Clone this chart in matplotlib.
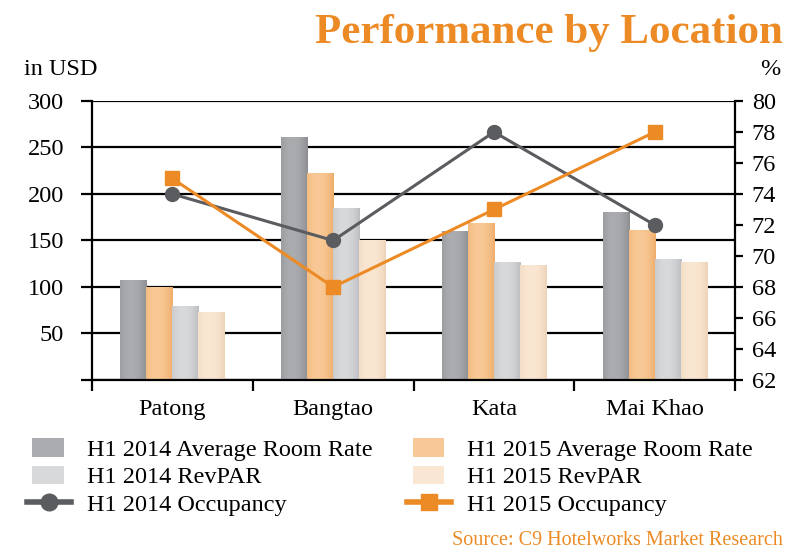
import numpy as np
import matplotlib
matplotlib.use("Agg")
from matplotlib import pyplot as plt
from matplotlib.colors import LinearSegmentedColormap
from matplotlib.patches import Patch, Rectangle
from matplotlib.lines import Line2D
from matplotlib.legend_handler import HandlerPatch

plt.rcParams['font.family'] = ['Liberation Serif', 'DejaVu Serif']

# data
locations = ['Patong', 'Bangtao', 'Kata', 'Mai Khao']
arr2014 = [107, 261, 160, 180]
arr2015 = [100, 222, 168, 161]
revpar2014 = [79, 184, 126, 130]
revpar2015 = [73, 150, 123, 126]
occ2014 = [74, 71, 78, 72]
occ2015 = [75, 68, 73, 78]

usdTicks = [0, 50, 100, 150, 200, 250, 300]
pctTicks = [62, 64, 66, 68, 70, 72, 74, 76, 78, 80]

orange = '#ec8b25'
darkGray = '#5b5c5f'

# (edge colour, centre colour) for the shaded bars
barSeries = [
    ('H1 2014 Average Room Rate', arr2014, '#8c8d91', '#abacb0'),
    ('H1 2015 Average Room Rate', arr2015, '#eeab68', '#f8c996'),
    ('H1 2014 RevPAR', revpar2014, '#bbbcbf', '#d8d9db'),
    ('H1 2015 RevPAR', revpar2015, '#ecd3b8', '#fae7d3'),
]

fig = plt.figure(figsize=(8, 5.58), dpi=100)
ax = fig.add_axes([0.115, 0.319, 0.804, 0.5])

x = np.arange(len(locations))
barWidth = 0.162
offsets = [-1.5, -0.5, 0.5, 1.5]

t = np.linspace(0, 1, 64)
shade = np.sin(np.pi * (0.15 + 0.85 * t)) ** 0.8
shade = shade.reshape(1, -1)

for (name, vals, edge, mid), off in zip(barSeries, offsets):
    bars = ax.bar(x + off * barWidth, vals, barWidth, color=mid, zorder=2)
    cmap = LinearSegmentedColormap.from_list(name, [edge, mid])
    for b in bars:
        ax.imshow(shade, cmap=cmap, vmin=0, vmax=1, aspect='auto',
                  extent=[b.get_x(), b.get_x() + b.get_width(), 0, b.get_height()],
                  zorder=2.1, interpolation='bilinear')

ax.set_xlim(-0.5, 3.5)
ax.set_ylim(0, 300)
ax.set_yticks(usdTicks)
ax.set_yticklabels([''] + [str(v) for v in usdTicks[1:]])
ax.yaxis.grid(True, color='black', linewidth=1.6)
ax.set_axisbelow(True)

ax.set_xticks(np.arange(-0.5, 4, 1))
ax.set_xticklabels([])
ax.set_xticks(x, minor=True)
ax.set_xticklabels(locations, minor=True)
ax.tick_params(axis='x', which='minor', length=0, pad=14, labelsize=17.5)
ax.tick_params(axis='x', which='major', direction='out', length=8, width=1.6)
ax.tick_params(axis='y', direction='out', length=8, width=1.6, labelsize=17.5, pad=12)

for side in ['top', 'right']:
    ax.spines[side].set_visible(False)
for side in ['left', 'bottom']:
    ax.spines[side].set_linewidth(1.6)

ax2 = ax.twinx()
ax2.plot(x, occ2014, color=darkGray, linewidth=2.2, marker='o', markersize=10, zorder=3)
ax2.plot(x, occ2015, color=orange, linewidth=2.2, marker='s', markersize=10, zorder=3)
ax2.set_ylim(62, 80)
ax2.set_yticks(pctTicks)
ax2.tick_params(axis='y', direction='out', length=6, width=1.6, labelsize=17.5, pad=6)
for side in ['top', 'left', 'bottom']:
    ax2.spines[side].set_visible(False)
ax2.spines['right'].set_linewidth(1.6)

fig.text(0.978, 0.94, 'Performance by Location', ha='right', va='center',
         fontsize=31, fontweight='bold', color=orange)
fig.text(0.03, 0.875, 'in USD', ha='left', va='center', fontsize=17.5)
fig.text(0.976, 0.875, '%', ha='right', va='center', fontsize=17.5)
fig.text(0.979, 0.032, 'Source: C9 Hotelworks Market Research', ha='right', va='center',
         fontsize=14.5, color=orange)


def smallBox(legend, orig_handle, xdescent, ydescent, width, height, fontsize):
    return Rectangle((-xdescent + 0.12 * width, -ydescent), 0.72 * width, height)


handles = [
    Patch(facecolor=barSeries[0][3]),
    Patch(facecolor=barSeries[2][3]),
    Line2D([], [], color=darkGray, linewidth=4, marker='o', markersize=12),
    Patch(facecolor=barSeries[1][3]),
    Patch(facecolor=barSeries[3][3]),
    Line2D([], [], color=orange, linewidth=4, marker='s', markersize=12),
]
labels = ['H1 2014 Average Room Rate', 'H1 2014 RevPAR', 'H1 2014 Occupancy',
          'H1 2015 Average Room Rate', 'H1 2015 RevPAR', 'H1 2015 Occupancy']
fig.legend(handles, labels, loc='upper left', bbox_to_anchor=(0.034, 0.215), ncol=2,
           frameon=False, fontsize=17.5, handlelength=1.8, handleheight=0.8,
           handletextpad=0.65, columnspacing=1.44, labelspacing=0.2, borderpad=0,
           borderaxespad=0, handler_map={Patch: HandlerPatch(patch_func=smallBox)})

fig.savefig('out.png', dpi=100)
